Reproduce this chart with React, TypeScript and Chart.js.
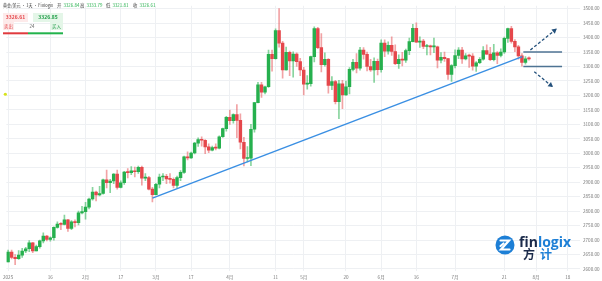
import React, { useEffect, useRef } from "react";
import { Chart, registerables } from "chart.js";
Chart.register(...registerables);

// Daily XAU/USD bars, 2 Jan 2025 .. 30 Jul 2025 (index = trading-day slot)
const opens = [
  2624, 2658, 2640, 2636, 2648, 2662, 2670, 2690, 2662, 2677, 2697, 2714, 2702, 2708, 2744, 2755, 2754, 2770, 2740, 2763, 2760, 2794,
  2798, 2814, 2842, 2866, 2856, 2861, 2908, 2898, 2904, 2928, 2882, 2898, 2935, 2933, 2939, 2936, 2951, 2914, 2916, 2876,
  2857, 2893, 2918, 2920, 2911, 2910, 2889, 2916, 2934, 2988, 2984, 3001, 3035, 3047, 3045, 3022, 3011, 3020, 3018, 3057, 3085,
  3124, 3113, 3134, 3114, 3038, 2982, 2983, 3083, 3175, 3237, 3211, 3230, 3342, 3327, 3424, 3381, 3288, 3349, 3319, 3343, 3317,
  3288, 3239, 3241, 3334, 3431, 3365, 3306, 3325, 3235, 3248, 3178, 3240, 3202, 3230, 3290, 3314, 3294, 3357, 3342, 3300, 3288, 3318,
  3289, 3381, 3353, 3373, 3352, 3310, 3325, 3322, 3355, 3386, 3432, 3384, 3388, 3369, 3369, 3368, 3368, 3322, 3332, 3327, 3273,
  3303, 3338, 3357, 3326, 3337, 3336, 3301, 3313, 3325, 3355, 3343, 3324, 3347, 3338, 3350, 3397, 3431, 3387, 3368, 3337, 3314, 3326.84,
];
const highs = [
  2665, 2665, 2650, 2664, 2671, 2675, 2698, 2692, 2683, 2700, 2725, 2716, 2711, 2746, 2763, 2760, 2786, 2772, 2767, 2770, 2800, 2817,
  2830, 2845, 2882, 2869, 2886, 2911, 2942, 2910, 2930, 2942, 2905, 2938, 2947, 2954, 2952, 2956, 2956, 2930, 2920, 2882,
  2896, 2928, 2930, 2927, 2930, 2915, 2921, 2940, 2990, 3005, 3004, 3038, 3053, 3057, 3047, 3033, 3025, 3033, 3060, 3087, 3128,
  3149, 3136, 3168, 3136, 3055, 3023, 3100, 3176, 3245, 3245, 3232, 3357, 3357, 3430, 3500, 3387, 3367, 3353, 3351, 3347, 3328,
  3297, 3269, 3336, 3437, 3435, 3414, 3347, 3327, 3265, 3252, 3252, 3252, 3250, 3296, 3325, 3345, 3366, 3365, 3350, 3325, 3330, 3326,
  3392, 3392, 3385, 3403, 3375, 3340, 3349, 3360, 3398, 3446, 3451, 3403, 3394, 3377, 3374, 3398, 3371, 3348, 3350, 3328, 3307,
  3358, 3365, 3366, 3345, 3343, 3345, 3317, 3331, 3369, 3375, 3366, 3377, 3352, 3361, 3402, 3433, 3439, 3393, 3373, 3345, 3334, 3333.79,
];
const lows = [
  2624, 2635, 2615, 2633, 2640, 2656, 2660, 2656, 2662, 2672, 2690, 2697, 2696, 2700, 2741, 2736, 2752, 2730, 2736, 2745, 2752, 2790,
  2772, 2808, 2838, 2835, 2853, 2859, 2880, 2864, 2895, 2876, 2880, 2892, 2915, 2926, 2918, 2930, 2890, 2905, 2873, 2832,
  2856, 2880, 2905, 2895, 2897, 2880, 2880, 2905, 2930, 2977, 2982, 2998, 3024, 3025, 2999, 3002, 3008, 3012, 3015, 3055, 3076,
  3100, 3104, 3054, 3015, 2956, 2970, 2957, 3073, 3174, 3193, 3205, 3228, 3284, 3325, 3367, 3260, 3287, 3268, 3263, 3300, 3268,
  3202, 3222, 3232, 3316, 3362, 3281, 3301, 3208, 3220, 3171, 3120, 3154, 3200, 3205, 3285, 3278, 3287, 3325, 3285, 3283, 3245, 3271,
  3280, 3334, 3343, 3338, 3306, 3293, 3302, 3314, 3341, 3385, 3383, 3366, 3362, 3340, 3340, 3348, 3295, 3312, 3318, 3255, 3248,
  3295, 3327, 3311, 3323, 3297, 3287, 3283, 3310, 3322, 3341, 3320, 3319, 3310, 3333, 3345, 3383, 3381, 3351, 3325, 3301, 3308, 3321.81,
];
const closes = [
  2658, 2640, 2636, 2648, 2662, 2670, 2690, 2662, 2677, 2697, 2714, 2702, 2708, 2744, 2755, 2754, 2770, 2740, 2763, 2760, 2794, 2798,
  2814, 2842, 2866, 2856, 2861, 2908, 2898, 2904, 2928, 2882, 2898, 2935, 2933, 2939, 2936, 2951, 2914, 2916, 2876, 2857,
  2893, 2918, 2920, 2911, 2910, 2889, 2916, 2934, 2988, 2984, 3001, 3035, 3047, 3045, 3022, 3011, 3020, 3018, 3057, 3085, 3124,
  3113, 3134, 3114, 3038, 2982, 2983, 3083, 3175, 3237, 3211, 3230, 3342, 3327, 3424, 3381, 3288, 3349, 3319, 3343, 3317, 3288,
  3239, 3241, 3334, 3431, 3365, 3306, 3325, 3235, 3248, 3178, 3240, 3202, 3230, 3290, 3314, 3294, 3357, 3342, 3300, 3288, 3318, 3289,
  3381, 3353, 3373, 3352, 3310, 3325, 3322, 3355, 3386, 3432, 3384, 3388, 3369, 3369, 3368, 3368, 3322, 3332, 3327, 3273, 3303,
  3338, 3357, 3326, 3337, 3336, 3301, 3313, 3325, 3355, 3343, 3324, 3347, 3338, 3350, 3397, 3431, 3387, 3368, 3337, 3314, 3326.84, 3326.61,
];

// X axis: slot indices of the labelled days and their labels
const xTickIdx = [0, 12, 22, 32, 42, 52, 63, 76, 84, 96, 106, 116, 127, 141, 150, 159];
const xTickText = ["2025", "16", "2月", "17", "3月", "17", "4月", "11", "5月", "20", "6月", "16", "7月", "21", "8月", "18"];
const xMin = -0.5;
const xMax = 162.5;

// Y axis ticks
const yTicks = [2600, 2650, 2700, 2750, 2800, 2850, 2900, 2950, 3000, 3050, 3100, 3150, 3200, 3250, 3300, 3350, 3400, 3450, 3500];
const yMin = 2593;
const yMax = 3510;

// Drawings (slot index, price)
const trendX = [41, 146.1];
const trendY = [2845, 3334];
const levelPrices = [3350, 3300];
const levelX = [146.4, 157.4];
const upArrowX = [148.4, 155.7];
const upArrowY = [3357, 3429];
const downArrowX = [149.5, 154.6];
const downArrowY = [3282, 3231];
const alertPrice = 3204;

// Header text
const headerTitle = "黄金/美元 · 1天 · Finlogix";
const ohlcLabels = ["开", "高", "低", "收"];
const ohlcValues = ["3326.84", "3333.79", "3321.81", "3326.61"];
const sellPrice = "3326.61";
const buyPrice = "3326.85";
const spreadText = "24";
const sellLabel = "卖出";
const buyLabel = "买入";

const GREEN = "#26b04e";
const RED = "#e5474b";
const GREEN_W = "rgba(38,176,78,0.55)";
const RED_W = "rgba(229,71,75,0.5)";
const FONT = "'Noto Sans CJK SC', 'Liberation Sans', sans-serif";

const arrowPlugin = {
  id: "arrowHeads",
  afterDatasetsDraw(chart: any) {
    const ctx = chart.ctx;
    chart.data.datasets.forEach((ds: any, i: number) => {
      if (!ds.arrowHead) return;
      const pts = chart.getDatasetMeta(i).data;
      if (pts.length < 2) return;
      const a = pts[pts.length - 2];
      const b = pts[pts.length - 1];
      const ang = Math.atan2(b.y - a.y, b.x - a.x);
      const L = 4.8;
      const W = 2.7;
      const bx = b.x + Math.cos(ang) * 1;
      const by = b.y + Math.sin(ang) * 1;
      ctx.save();
      ctx.fillStyle = ds.borderColor;
      ctx.beginPath();
      ctx.moveTo(bx, by);
      ctx.lineTo(bx - L * Math.cos(ang) + W * Math.sin(ang), by - L * Math.sin(ang) - W * Math.cos(ang));
      ctx.lineTo(bx - L * Math.cos(ang) - W * Math.sin(ang), by - L * Math.sin(ang) + W * Math.cos(ang));
      ctx.closePath();
      ctx.fill();
      ctx.restore();
    });
  },
};

const overlayPlugin = {
  id: "overlay",
  afterDraw(chart: any) {
    const ctx = chart.ctx;
    const xs = chart.scales.x;
    const ys = chart.scales.y;
    ctx.save();
    // alert marker at left edge
    ctx.fillStyle = "#d6e21a";
    ctx.beginPath();
    ctx.arc(xs.getPixelForValue(xMin) - 1, ys.getPixelForValue(alertPrice), 1.6, 0, Math.PI * 2);
    ctx.fill();

    // header line
    ctx.textBaseline = "middle";
    ctx.textAlign = "left";
    ctx.font = `4.4px ${FONT}`;
    ctx.fillStyle = "#3a3a3a";
    ctx.fillText(headerTitle, 3, 5, 50);
    const lx = [57, 80, 106, 133];
    ohlcLabels.forEach((l, i) => {
      ctx.fillStyle = "#3a3a3a";
      ctx.fillText(l, lx[i], 5);
      ctx.fillStyle = GREEN;
      ctx.fillText(ohlcValues[i], lx[i] + 6.5, 5);
    });

    // sell / buy boxes
    ctx.fillStyle = "#fdeaea";
    ctx.fillRect(3, 13, 25, 9);
    ctx.fillStyle = "#e4f6e8";
    ctx.fillRect(33, 13, 30, 9);
    ctx.font = `bold 5px ${FONT}`;
    ctx.textAlign = "center";
    ctx.fillStyle = RED;
    ctx.fillText(sellPrice, 15.5, 17.5);
    ctx.fillStyle = "#1f9d47";
    ctx.fillText(buyPrice, 48, 17.5);
    ctx.fillStyle = "#fdeaea";
    ctx.fillRect(3, 22, 11, 8);
    ctx.fillStyle = "#e4f6e8";
    ctx.fillRect(50, 22, 13, 8);
    ctx.font = `4.4px ${FONT}`;
    ctx.fillStyle = RED;
    ctx.fillText(sellLabel, 8.5, 26);
    ctx.fillStyle = "#555";
    ctx.fillText(spreadText, 32, 26);
    ctx.fillStyle = "#1f9d47";
    ctx.fillText(buyLabel, 56.5, 26);
    ctx.fillStyle = "#e03a3e";
    ctx.fillRect(3, 32.3, 25, 2);
    ctx.fillStyle = "#22b34c";
    ctx.fillRect(28, 32.3, 35, 2);

    // logo
    const cx = 505;
    const cy = 245;
    ctx.fillStyle = "#1d7fd6";
    ctx.beginPath();
    ctx.arc(cx, cy, 9.5, 0, Math.PI * 2);
    ctx.fill();
    ctx.strokeStyle = "#ffffff";
    ctx.lineWidth = 2.2;
    ctx.lineCap = "round";
    ctx.beginPath();
    ctx.moveTo(cx - 4.5, cy - 4.5);
    ctx.lineTo(cx + 4, cy - 4.5);
    ctx.lineTo(cx - 4, cy + 4.5);
    ctx.lineTo(cx + 4.5, cy + 4.5);
    ctx.stroke();
    ctx.beginPath();
    ctx.moveTo(cx - 4.5, cy + 1);
    ctx.lineTo(cx - 1.5, cy - 1.5);
    ctx.stroke();

    ctx.textAlign = "left";
    ctx.textBaseline = "alphabetic";
    ctx.font = `bold 14px 'Open Sans', 'Liberation Sans', sans-serif`;
    ctx.fillStyle = "#1b2a4a";
    ctx.fillText("fin", 519, 247);
    const wFin = ctx.measureText("fin").width;
    ctx.fillStyle = "#1d7fd6";
    ctx.fillText("logix", 519 + wFin, 247);
    ctx.font = `bold 12px ${FONT}`;
    ctx.fillStyle = "#1b2a4a";
    ctx.fillText("方", 523, 259);
    ctx.fillStyle = "#1d7fd6";
    ctx.fillText("计", 540, 259);
    ctx.restore();
  },
};

export default function App() {
  const ref = useRef<HTMLCanvasElement>(null);

  useEffect(() => {
    document.body.style.margin = "0";
    const canvas = ref.current;
    if (!canvas) return;
    const idx = closes.map((_, i) => i);
    const up = idx.map((i) => closes[i] >= opens[i]);

    const chart = new Chart(canvas, {
      type: "bar",
      data: {
        datasets: [
          {
            type: "line",
            data: trendX.map((x, i) => ({ x, y: trendY[i] })),
            borderColor: "#3a8fe3",
            borderWidth: 1.5,
            pointRadius: 0,
            order: -2,
          } as any,
          ...levelPrices.map(
            (p) =>
              ({
                type: "line",
                data: levelX.map((x) => ({ x, y: p })),
                borderColor: "#4e7393",
                borderWidth: 1.5,
                pointRadius: 0,
                order: -2,
              } as any)
          ),
          {
            type: "line",
            data: upArrowX.map((x, i) => ({ x, y: upArrowY[i] })),
            borderColor: "#24517c",
            borderWidth: 1.3,
            borderDash: [3, 2],
            pointRadius: 0,
            arrowHead: true,
            order: -2,
          } as any,
          {
            type: "line",
            data: downArrowX.map((x, i) => ({ x, y: downArrowY[i] })),
            borderColor: "#24517c",
            borderWidth: 1.3,
            borderDash: [3, 2],
            pointRadius: 0,
            arrowHead: true,
            order: -2,
          } as any,
          {
            data: idx.map((i) => ({ x: i, y: [opens[i], closes[i]] })),
            backgroundColor: idx.map((i) => (up[i] ? GREEN : RED)),
            barThickness: 2.8,
            minBarLength: 1,
            grouped: false,
            borderSkipped: false,
            order: 0,
          } as any,
          {
            data: idx.map((i) => ({ x: i, y: [lows[i], highs[i]] })),
            backgroundColor: idx.map((i) => (up[i] ? GREEN_W : RED_W)),
            barThickness: 1,
            grouped: false,
            borderSkipped: false,
            order: 1,
          } as any,
        ],
      },
      options: {
        animation: false,
        responsive: false,
        devicePixelRatio: 1,
        events: [],
        layout: { padding: { left: 2, right: 0, top: 0, bottom: 0 } },
        plugins: { legend: { display: false }, tooltip: { enabled: false } },
        scales: {
          x: {
            type: "linear",
            min: xMin,
            max: xMax,
            offset: false,
            afterBuildTicks: (s: any) => {
              s.ticks = xTickIdx.map((v) => ({ value: v }));
            },
            afterFit: (s: any) => {
              s.height = 10;
            },
            ticks: {
              autoSkip: false,
              maxRotation: 0,
              padding: 3,
              color: "#7a7a7a",
              font: { size: 4.6, family: FONT },
              callback: (_v: any, i: number) => xTickText[i],
            },
            grid: { color: "#eef0f3", lineWidth: 1, drawTicks: false, offset: false },
            border: { display: false },
          },
          y: {
            position: "right",
            min: yMin,
            max: yMax,
            afterBuildTicks: (s: any) => {
              s.ticks = yTicks.map((v) => ({ value: v }));
            },
            afterFit: (s: any) => {
              s.width = 22;
            },
            ticks: {
              padding: 3,
              color: "#7a7a7a",
              font: { size: 4.6, family: FONT },
              callback: (v: any) => Number(v).toFixed(2),
            },
            grid: { color: "#eef0f3", lineWidth: 1, drawTicks: false },
            border: { display: false },
          },
        },
      } as any,
      plugins: [arrowPlugin, overlayPlugin],
    });
    return () => chart.destroy();
  }, []);

  return (
    <div style={{ width: 602, height: 281, background: "#ffffff" }}>
      <canvas ref={ref} width={602} height={281} style={{ width: 602, height: 281, display: "block" }} />
    </div>
  );
}
